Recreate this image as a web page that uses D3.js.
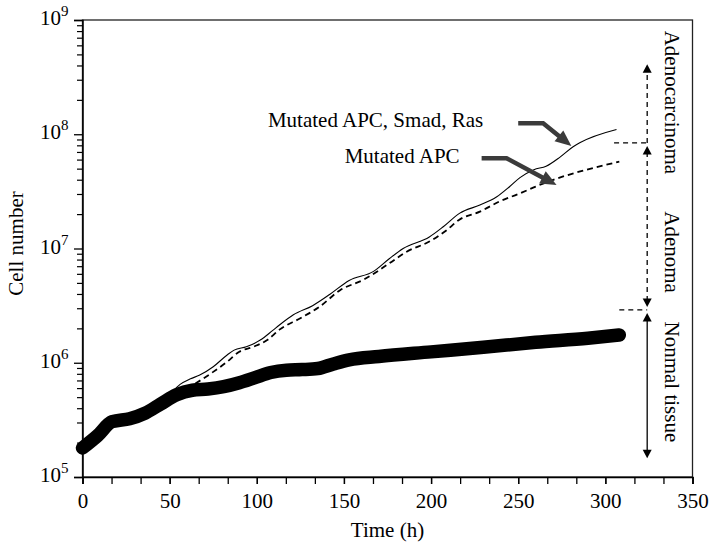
<!DOCTYPE html>
<html>
<head>
<meta charset="utf-8">
<script src="https://cdn.jsdelivr.net/npm/d3@7"></script>
<style>
  body { margin: 0; background: #fff; }
  text { font-family: "Liberation Serif", "Times New Roman", Times, serif; fill: #000; }
</style>
</head>
<body>
<svg id="chart" width="711" height="545"></svg>
<script>
// Normal tissue (thick curve)
const normalTime  = [0, 8.5, 17, 27, 36, 45, 54, 63, 72, 81, 90, 99, 108, 117, 126, 135, 144, 153, 170, 200, 230, 260, 290, 308];
const normalCells = [1.795e5, 2.29e5, 3.05e5, 3.24e5, 3.63e5, 4.37e5, 5.25e5, 5.75e5, 5.89e5, 6.17e5, 6.68e5, 7.41e5, 8.22e5,
                     8.61e5, 8.71e5, 8.91e5, 9.77e5, 1.06e6, 1.135e6, 1.245e6, 1.365e6, 1.51e6, 1.64e6, 1.75e6];

// Mutated APC, Smad, Ras (thin solid curve)
const smadTime  = [45, 50, 56, 62, 67, 75, 83, 87, 94, 102, 109, 113, 121, 132, 142, 153, 167, 176, 184, 199, 207, 216.5,
                   228, 237.5, 245, 251, 259, 266, 274, 281.5, 285.3, 306.4];
const smadCells = [4.37e5, 5.25e5, 6.46e5, 7.24e5, 7.76e5, 9.23e5, 1.17e6, 1.29e6, 1.38e6, 1.58e6, 1.91e6, 2.14e6, 2.63e6,
                   3.16e6, 3.98e6, 5.25e6, 6.31e6, 8.13e6, 1.0e7, 1.26e7, 1.55e7, 2.04e7, 2.40e7, 2.82e7, 3.47e7, 4.17e7,
                   4.90e7, 5.25e7, 6.31e7, 7.76e7, 8.41e7, 1.10e8];

// Mutated APC (dashed curve)
const apcTime  = [45, 55, 65, 75, 83, 90, 98, 106, 113, 125, 136, 148, 161, 176, 186, 199, 209, 216, 228, 239, 251, 260,
                  268, 285, 308];
const apcCells = [4.37e5, 5.37e5, 6.61e5, 8.32e5, 1.02e6, 1.25e6, 1.38e6, 1.58e6, 1.95e6, 2.45e6, 3.09e6, 4.34e6, 5.30e6,
                  7.41e6, 9.38e6, 1.15e7, 1.45e7, 1.78e7, 2.10e7, 2.57e7, 3.04e7, 3.48e7, 3.89e7, 4.70e7, 5.75e7];

// Axis ticks
const xTickValues = [0, 50, 100, 150, 200, 250, 300, 350];
const yTickExponents = [5, 6, 7, 8, 9];

// Stage boundaries (cell numbers) and stage names along the right edge
const stageTime = 324;
const stageBounds = [1.46e5, 2.72e6, 2.9e6, 3.08e6, 7.9e7, 8.4e7, 4.1e8];
const stageNames = ["Adenocarcinoma", "Adenoma", "Nonmal tissue"];
const stageNameCells = [1.9e8, 9.3e6, 6.8e5];

// Pointer arrows from the curve labels: [time, cells]
const smadPointer = [[250, 1.25e8], [264.3, 1.25e8], [280.5, 7.9e7]];
const apcPointer  = [[229, 6.17e7], [243.3, 6.17e7], [272, 3.6e7]];
const curveLabels = ["Mutated APC, Smad, Ras", "Mutated APC"];

const svg = d3.select("#chart");
const mLeft = 82.5, mRight = 692.5, mTop = 20, mBottom = 477;

const x = d3.scaleLinear().domain([0, 350]).range([mLeft, mRight]);
const y = d3.scaleLog().domain([1e5, 1e9]).range([mBottom, mTop]);

const FS = 21;

// ---- frame ----
svg.append("rect")
  .attr("x", mLeft).attr("y", mTop)
  .attr("width", mRight - mLeft).attr("height", mBottom - mTop)
  .attr("fill", "none").attr("stroke", "#222").attr("stroke-width", 1.3);

// ---- x axis ----
const xMinor = d3.range(0, 350.01, 50 / 3);
const gxMinor = svg.append("g").attr("transform", `translate(0,${mBottom})`)
  .call(d3.axisBottom(x).tickValues(xMinor).tickSize(7).tickFormat(""));
gxMinor.select(".domain").remove();
gxMinor.selectAll("line").attr("stroke", "#000").attr("stroke-width", 1.3);

const gx = svg.append("g").attr("transform", `translate(0,${mBottom})`)
  .call(d3.axisBottom(x).tickValues(xTickValues).tickSize(7).tickPadding(0).tickFormat(d3.format("d")));
gx.select(".domain").attr("stroke", "#000").attr("stroke-width", 1.5);
gx.selectAll("line").attr("stroke", "#000").attr("stroke-width", 1.3);
gx.selectAll("text").attr("y", 31).attr("dy", null)
  .attr("font-size", FS).attr("font-family", "Liberation Serif");

// ---- y axis ----
const yMinor = [];
yTickExponents.slice(0, -1).forEach(e => { for (let k = 2; k <= 9; k++) yMinor.push(k * Math.pow(10, e)); });
const gyMinor = svg.append("g").attr("transform", `translate(${mLeft},0)`)
  .call(d3.axisLeft(y).tickValues(yMinor).tickSize(5.5).tickFormat(""));
gyMinor.select(".domain").remove();
gyMinor.selectAll("line").attr("stroke", "#000").attr("stroke-width", 1.2);

const gy = svg.append("g").attr("transform", `translate(${mLeft},0)`)
  .call(d3.axisLeft(y).tickValues(yTickExponents.map(e => Math.pow(10, e))).tickSize(8.5).tickFormat(""));
gy.select(".domain").attr("stroke", "#000").attr("stroke-width", 1.5);
gy.selectAll("line").attr("stroke", "#000").attr("stroke-width", 1.3);

yTickExponents.forEach(e => {
  const t = svg.append("text")
    .attr("x", mLeft - 14).attr("y", y(Math.pow(10, e)) + 5)
    .attr("text-anchor", "end").attr("font-size", FS);
  t.append("tspan").text("10");
  t.append("tspan").attr("dy", -9).attr("font-size", 15).text(e);
});

// ---- axis titles ----
svg.append("text")
  .attr("x", (mLeft + mRight) / 2).attr("y", 537)
  .attr("text-anchor", "middle").attr("font-size", FS)
  .text("Time (h)");

svg.append("text")
  .attr("transform", `translate(23,${(mTop + mBottom) / 2 - 5}) rotate(-90)`)
  .attr("text-anchor", "middle").attr("font-size", FS)
  .text("Cell number");

// ---- curves ----
const line = d3.line()
  .x(d => x(d[0]))
  .y(d => y(d[1]))
  .curve(d3.curveMonotoneX);

svg.append("path")
  .datum(d3.zip(smadTime, smadCells))
  .attr("d", line)
  .attr("fill", "none").attr("stroke", "#000").attr("stroke-width", 1.1);

svg.append("path")
  .datum(d3.zip(apcTime, apcCells))
  .attr("d", line)
  .attr("fill", "none").attr("stroke", "#000").attr("stroke-width", 1.8)
  .attr("stroke-dasharray", "6,4");

svg.append("path")
  .datum(d3.zip(normalTime, normalCells))
  .attr("d", line)
  .attr("fill", "none").attr("stroke", "#000").attr("stroke-width", 13.5)
  .attr("stroke-linecap", "round").attr("stroke-linejoin", "round");

// ---- arrow helper: polyline in pixels, triangular heads at chosen ends ----
function arrow(pts, opt) {
  const p = pts.map(d => d.slice());
  const heads = [];
  function head(tip, prev) {
    const dx = tip[0] - prev[0], dy = tip[1] - prev[1];
    const len = Math.hypot(dx, dy), ux = dx / len, uy = dy / len;
    const bx = tip[0] - ux * opt.headLen, by = tip[1] - uy * opt.headLen;
    const hw = opt.headW / 2;
    heads.push([[tip[0], tip[1]], [bx - uy * hw, by + ux * hw], [bx + uy * hw, by - ux * hw]]);
    return [tip[0] - ux * opt.headLen * 0.7, tip[1] - uy * opt.headLen * 0.7];
  }
  if (opt.end) { const n = p.length; p[n - 1] = head(p[n - 1], p[n - 2]); }
  if (opt.start) { p[0] = head(p[0], p[1]); }
  svg.append("path")
    .attr("d", d3.line()(p))
    .attr("fill", "none").attr("stroke", opt.color).attr("stroke-width", opt.width)
    .attr("stroke-dasharray", opt.dash || null)
    .attr("stroke-linejoin", "miter");
  heads.forEach(h => svg.append("path")
    .attr("d", "M" + h.map(q => q.join(",")).join("L") + "Z")
    .attr("fill", opt.color));
}

// ---- curve labels with pointers ----
const grayArrow = { color: "#3b3b3b", width: 4.5, headLen: 16, headW: 14, end: true };
arrow(smadPointer.map(d => [x(d[0]), y(d[1])]), grayArrow);
arrow(apcPointer.map(d => [x(d[0]), y(d[1])]), grayArrow);

svg.append("text")
  .attr("x", x(smadPointer[0][0]) - 35).attr("y", y(smadPointer[0][1]) + 4)
  .attr("text-anchor", "end").attr("font-size", FS)
  .text(curveLabels[0]);
svg.append("text")
  .attr("x", x(apcPointer[0][0]) - 22).attr("y", y(apcPointer[0][1]) + 5)
  .attr("text-anchor", "end").attr("font-size", FS)
  .text(curveLabels[1]);

// ---- stage markers on the right ----
const sx = x(stageTime);
const blackHead = { color: "#000", headLen: 8.5, headW: 9 };

// boundary dashes
svg.append("line")
  .attr("x1", x(305)).attr("x2", sx)
  .attr("y1", y(stageBounds[5])).attr("y2", y(stageBounds[5]))
  .attr("stroke", "#000").attr("stroke-width", 1.3).attr("stroke-dasharray", "5,4");
svg.append("line")
  .attr("x1", x(308)).attr("x2", sx)
  .attr("y1", y(stageBounds[2])).attr("y2", y(stageBounds[2]))
  .attr("stroke", "#000").attr("stroke-width", 1.3).attr("stroke-dasharray", "5,4");

// adenocarcinoma: dashed, pointing up
arrow([[sx, y(stageBounds[5])], [sx, y(stageBounds[6])]],
      Object.assign({}, blackHead, { width: 1.3, dash: "5,4", end: true }));
// adenoma: dashed, both ends
arrow([[sx, y(stageBounds[4])], [sx, y(stageBounds[3])]],
      Object.assign({}, blackHead, { width: 1.3, dash: "5,4", start: true, end: true }));
// normal tissue: solid, both ends
arrow([[sx, y(stageBounds[1])], [sx, y(stageBounds[0])]],
      Object.assign({}, blackHead, { width: 1.3, start: true, end: true }));

// stage names, rotated to read downwards
stageNames.forEach((name, i) => {
  svg.append("text")
    .attr("transform", `translate(${sx + 18},${y(stageNameCells[i])}) rotate(90)`)
    .attr("text-anchor", "middle").attr("font-size", FS)
    .text(name);
});
</script>
</body>
</html>
